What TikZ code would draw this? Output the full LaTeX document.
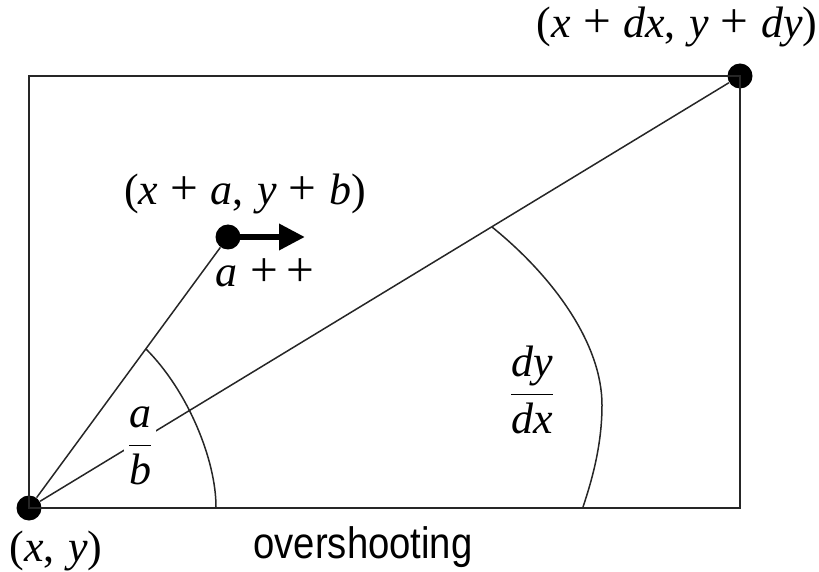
\documentclass[tikz,border=0pt]{standalone}
\usepackage{fontspec}
\setmainfont{Liberation Serif}
\newfontfamily\labelsans[FakeStretch=0.87]{Liberation Sans}
\usetikzlibrary{arrows.meta,calc}
\newcommand\bigplus{\scalebox{1.12}{+}}
\newcommand\plusgap{\hspace{0.28em}\bigplus\hspace{0.28em}}
\newcommand\commagap{,\hspace{0.3em}}
\newcommand\iv[1]{\textit{#1}}

\begin{document}
\begin{tikzpicture}[
  x=0.5pt,y=-0.5pt,
  font=\fontsize{22pt}{26pt}\selectfont,
  dot/.style={circle,fill=black,inner sep=0pt,minimum size=12.5pt},
  edge/.style={line width=0.75pt,black!85},
  push/.style={-{Triangle[length=13pt,width=12.5pt]},line width=3.2pt},
  coordlabel/.style={anchor=base,inner sep=0pt},
  ratio/.style={fill=white,inner sep=1.5pt},
]
\useasboundingbox (0,0) rectangle (819,572);

% points
\node[dot] (O) at (29,508) {};
\node[dot] (A) at (228,237) {};
\node[dot] (D) at (740,76)  {};
\coordinate (Atip) at (305,237);

% frame and rays
\draw[edge] (O.center) rectangle (D.center);
\draw[edge] (O) -- (A);
\draw[edge] (O) -- (D);
\draw[push] (A.center) -- (Atip);

% angle arcs
\draw[edge] (146,349) .. controls (188,391) and (216,460) .. (216,507);
\draw[edge] (492,227) .. controls (555,278) and (602,345) .. (602,405)
                      .. controls (602,445) and (592,480) .. (583,507);

% labels
\node[coordlabel] (labO) at (56,561)  {(\iv{x}\commagap\iv{y})};
\node[coordlabel] (labA) at (245,205) {(\iv{x}\plusgap\iv{a}\commagap\iv{y}\plusgap\iv{b})};
\node[coordlabel] (labD) at (677,38)  {(\iv{x}\plusgap\iv{dx}\commagap\iv{y}\plusgap\iv{dy})};
\node[coordlabel,anchor=base west] (inc) at (215,286) {\iv{a}\hspace{0.3em}\bigplus\hspace{0.18em}\bigplus};
\node[coordlabel,font=\fontsize{22pt}{26pt}\labelsans] (over) at (363,558) {overshooting};
\node[ratio] (ab) at (140,446) {$\displaystyle\frac{\hbox{\itshape a}}{\hbox{\itshape b}}$};
\node[inner sep=0pt] (dydx) at (532,390) {$\displaystyle\frac{\hbox{\itshape dy}}{\hbox{\itshape dx}}$};
\end{tikzpicture}
\end{document}
